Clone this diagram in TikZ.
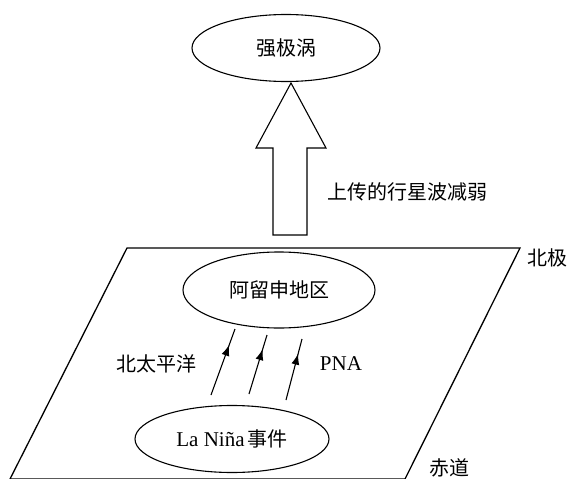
\documentclass[tikz,border=0pt]{standalone}
\usepackage{fontspec}
\newfontfamily\cjk{Noto Sans CJK SC}
\newfontfamily\lat{Liberation Serif}
\usetikzlibrary{shapes.geometric,decorations.markings,arrows.meta}
\begin{document}
\begin{tikzpicture}[x=1pt,y=-1pt,
  every node/.style={inner sep=0pt},
  txt/.style={font=\cjk\fontsize{20}{24}\selectfont},
  ell/.style={draw,line width=1.1pt,ellipse,font=\cjk\fontsize{20}{24}\selectfont},
  flow/.style={line width=1.1pt,postaction={decorate},
    decoration={markings,mark=at position 0.76 with {\arrow{Latex[length=11pt,width=8pt]}}}},
  plane/.style={line width=1.3pt},
  blockarrow/.style={draw,line width=1.1pt,fill=white}]
\useasboundingbox (0,0) rectangle (573,479);
% plane
\draw[plane] (127,248) -- (520,248) -- (405,479) -- (10,479) -- cycle;
% nodes
\node[ell,minimum width=188pt,minimum height=67pt] (vortex) at (286,48) {强极涡};
\node[ell,minimum width=192pt,minimum height=76pt] (aleut) at (279,290) {阿留申地区};
\node[ell,minimum width=194pt,minimum height=67pt] (nina) at (232,439) {{\lat\fontsize{21}{24}\selectfont La Niña}\hspace{3pt}事件};
% block arrow
\draw[blockarrow] (291,83) -- (326,148) -- (307,148) -- (307,235) -- (273,235) -- (273,148) -- (256,148) -- cycle;
% labels
\node[txt] (wave) at (407,192) {上传的行星波减弱};
\node[txt] (np) at (547,258) {北极};
\node[txt] (eq) at (449,468) {赤道};
\node[txt] (pac) at (156,364) {北太平洋};
\node[font=\lat\fontsize{21}{24}\selectfont] (pna) at (341,364) {PNA};
% flow arrows
\coordinate (a1s) at (211,395); \coordinate (a1e) at (235,329);
\coordinate (a2s) at (249,394); \coordinate (a2e) at (267,335);
\coordinate (a3s) at (286,400); \coordinate (a3e) at (302,339);
\draw[flow] (a1s) -- (a1e);
\draw[flow] (a2s) -- (a2e);
\draw[flow] (a3s) -- (a3e);
\end{tikzpicture}
\end{document}
